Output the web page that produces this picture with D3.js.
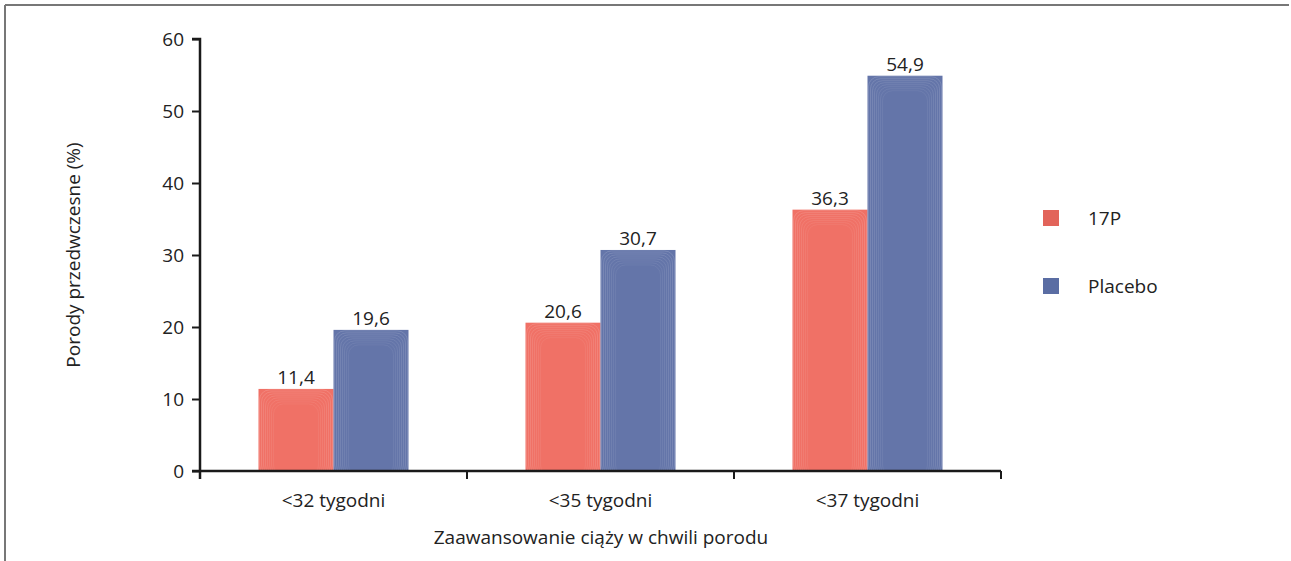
<!DOCTYPE html>
<html>
<head>
<meta charset="utf-8">
<script src="https://cdn.jsdelivr.net/npm/d3@7"></script>
<style>
  html, body { margin: 0; padding: 0; background: #fff; }
  svg { display: block; font-family: "Open Sans", "Noto Sans", sans-serif; }
</style>
</head>
<body>
<svg id="chart" width="1291" height="561"></svg>
<script>
// Preterm births by gestational age at delivery
const categories = ["<32 tygodni", "<35 tygodni", "<37 tygodni"];
const seriesNames = ["17P", "Placebo"];
const values17P = [11.4, 20.6, 36.3];
const valuesPlacebo = [19.6, 30.7, 54.9];
const yTicks = [0, 10, 20, 30, 40, 50, 60];
const labels17P = ["11,4", "20,6", "36,3"];
const labelsPlacebo = ["19,6", "30,7", "54,9"];

const colors = { "17P": "#f07166", "Placebo": "#6475a9" };
const legendColors = { "17P": "#e2645a", "Placebo": "#5a6da3" };

const svg = d3.select("#chart");

// outer frame (top and left edges)
svg.append("line").attr("x1", 5).attr("x2", 1289).attr("y1", 5).attr("y2", 5)
  .attr("stroke", "#777").attr("stroke-width", 2);
svg.append("line").attr("x1", 5).attr("x2", 5).attr("y1", 5).attr("y2", 561)
  .attr("stroke", "#777").attr("stroke-width", 2);

const plot = { left: 200, right: 1001, top: 39, bottom: 471 };

const x = d3.scaleBand().domain(categories).range([plot.left, plot.right]).paddingInner(0).paddingOuter(0);
const xInner = d3.scaleBand().domain(seriesNames).range([0, 150]);
const xOffset = (x.bandwidth() - 150) / 2;
const y = d3.scaleLinear().domain([0, 60]).range([plot.bottom, plot.top]);

const rows = categories.map((c, i) => ({
  cat: c,
  items: [
    { s: "17P", v: values17P[i], label: labels17P[i] },
    { s: "Placebo", v: valuesPlacebo[i], label: labelsPlacebo[i] }
  ]
}));

// bars
const groups = svg.append("g").selectAll("g").data(rows).join("g")
  .attr("transform", d => `translate(${x(d.cat) + xOffset},0)`);

const bar = groups.selectAll("g.bar").data(d => d.items).join("g").attr("class", "bar");

bar.append("rect")
  .attr("x", d => xInner(d.s))
  .attr("y", d => y(d.v))
  .attr("width", xInner.bandwidth())
  .attr("height", d => y(0) - y(d.v))
  .attr("fill", d => colors[d.s]);

// soft bevel highlight: nested rounded outlines near the top edge
bar.each(function (d) {
  const g = d3.select(this);
  const bx = xInner(d.s), by = y(d.v), bw = xInner.bandwidth(), bh = y(0) - y(d.v);
  const steps = d3.range(1, 16, 2);
  steps.forEach((k, j) => {
    if (bh - k * 2 < 10) return;
    g.append("rect")
      .attr("x", bx + k).attr("y", by + k)
      .attr("width", bw - 2 * k).attr("height", bh - k + 4)
      .attr("rx", 10).attr("ry", 10)
      .attr("fill", "none")
      .attr("stroke", "#fff")
      .attr("stroke-opacity", 0.18 - j * 0.015)
      .attr("stroke-width", 0.8);
  });
});

// value labels
bar.append("text")
  .attr("x", d => xInner(d.s) + xInner.bandwidth() / 2)
  .attr("y", d => y(d.v) - 5)
  .attr("text-anchor", "middle")
  .attr("font-size", 19)
  .attr("fill", "#222")
  .text(d => d.label);

// y axis
const yAxis = svg.append("g")
  .attr("transform", `translate(${plot.left},0)`)
  .call(d3.axisLeft(y).tickValues(yTicks).tickSize(8).tickPadding(8).tickFormat(d3.format("d")));
yAxis.select(".domain").attr("stroke", "#1a1a1a").attr("stroke-width", 2.5)
  .attr("d", `M-8,${y(60)}H0V${y(0) + 8}`);
yAxis.selectAll(".tick line").attr("stroke", "#1a1a1a").attr("stroke-width", 2);
yAxis.selectAll(".tick text").attr("font-size", 19).attr("fill", "#222")
  .attr("font-family", "'Open Sans', 'Noto Sans', sans-serif");

// x axis
const tickPositions = [0, 1, 2, 3].map(i => plot.left + i * x.bandwidth());
svg.append("line").attr("x1", plot.left - 8).attr("x2", plot.right)
  .attr("y1", y(0)).attr("y2", y(0)).attr("stroke", "#1a1a1a").attr("stroke-width", 2.5);
svg.append("g").selectAll("line").data(tickPositions).join("line")
  .attr("x1", d => d).attr("x2", d => d)
  .attr("y1", y(0)).attr("y2", y(0) + 8)
  .attr("stroke", "#1a1a1a").attr("stroke-width", 2);

svg.append("g").selectAll("text").data(categories).join("text")
  .attr("x", d => x(d) + x.bandwidth() / 2)
  .attr("y", 507)
  .attr("text-anchor", "middle")
  .attr("font-size", 19)
  .attr("fill", "#222")
  .text(d => d);

// axis titles
svg.append("text")
  .attr("x", 601).attr("y", 544)
  .attr("text-anchor", "middle")
  .attr("font-size", 19).attr("fill", "#222")
  .text("Zaawansowanie ciąży w chwili porodu");

svg.append("text")
  .attr("transform", "translate(80,255) rotate(-90)")
  .attr("text-anchor", "middle")
  .attr("font-size", 19).attr("fill", "#222")
  .text("Porody przedwczesne (%)");

// legend
const legend = svg.append("g").selectAll("g").data(seriesNames).join("g")
  .attr("transform", (d, i) => `translate(1043,${210 + i * 68})`);
legend.append("rect").attr("width", 16).attr("height", 16).attr("fill", d => legendColors[d]);
legend.append("text").attr("x", 45).attr("y", 15)
  .attr("font-size", 19).attr("fill", "#222")
  .text(d => d);
</script>
</body>
</html>
